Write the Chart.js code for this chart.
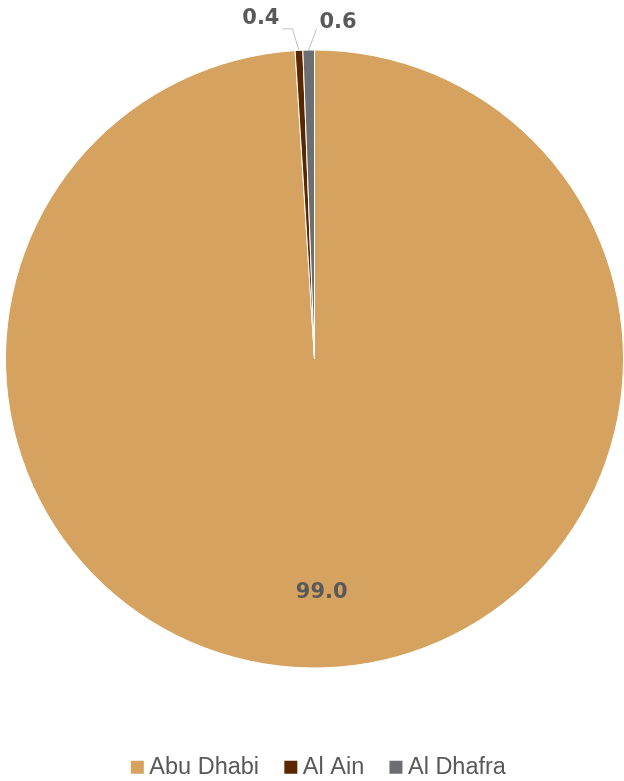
<!DOCTYPE html>
<html>
<head>
<meta charset="utf-8">
<script src="https://cdn.jsdelivr.net/npm/chart.js@4"></script>
<style>
  html, body { margin: 0; padding: 0; background: #fff; overflow: hidden; }
  #wrap { width: 624px; height: 781px; overflow: hidden; }
</style>
</head>
<body>
<div id="wrap"><canvas id="chart" width="624" height="789"></canvas></div>
<script>
const regions = ['Abu Dhabi', 'Al Ain', 'Al Dhafra'];
const shares = [99.0, 0.4, 0.6];
const sliceColors = ['#D5A260', '#5A2800', '#6D6E71'];

// value labels: inside the big slice, out above the two thin ones on leader lines
const labelPlacement = [
    { inside: true, radius: 0.75, dx: 0, dy: 7.5 },
    { inside: false, elbow: [-6.5, -21.5], end: [-16.5, -21.5], text: [-19.5, -26.5], align: 'right' },
    { inside: false, elbow: null, end: [7.8, -21], text: [10.8, -22.3], align: 'left' }
];

const valueLabels = {
    id: 'valueLabels',
    afterDatasetsDraw(chart) {
        const ctx = chart.ctx;
        const arcs = chart.getDatasetMeta(0).data;
        ctx.save();
        ctx.font = 'bold 21px "DejaVu Sans"';
        ctx.fillStyle = '#595959';
        ctx.textBaseline = 'alphabetic';
        arcs.forEach((arc, i) => {
            const p = arc.getProps(['x', 'y', 'startAngle', 'endAngle', 'outerRadius'], true);
            const mid = (p.startAngle + p.endAngle) / 2;
            const place = labelPlacement[i];
            const text = shares[i].toFixed(1);
            if (place.inside) {
                const r = p.outerRadius * place.radius;
                ctx.textAlign = 'center';
                ctx.fillText(text, p.x + Math.cos(mid) * r + place.dx, p.y + Math.sin(mid) * r + place.dy);
                return;
            }
            const ox = p.x + Math.cos(mid) * p.outerRadius;
            const oy = p.y + Math.sin(mid) * p.outerRadius;
            ctx.strokeStyle = '#BFBFBF';
            ctx.lineWidth = 1;
            ctx.beginPath();
            ctx.moveTo(ox, oy);
            if (place.elbow) ctx.lineTo(ox + place.elbow[0], oy + place.elbow[1]);
            ctx.lineTo(ox + place.end[0], oy + place.end[1]);
            ctx.stroke();
            ctx.textAlign = place.align;
            ctx.fillText(text, ox + place.text[0], oy + place.text[1]);
        });
        ctx.restore();
    }
};

// the legend squares hang left of their items, so push the row back to centre
const legendNudge = {
    id: 'legendNudge',
    afterLayout(chart) {
        chart.legend.left += 7;
        chart.legend.right += 7;
    }
};

new Chart(document.getElementById('chart').getContext('2d'), {
    type: 'pie',
    data: {
        labels: regions,
        datasets: [{
            data: shares,
            backgroundColor: sliceColors,
            borderColor: '#ffffff',
            borderWidth: 1
        }]
    },
    options: {
        responsive: false,
        animation: false,
        layout: { padding: { top: 0, left: 5, right: 0, bottom: 0 } },
        plugins: {
            tooltip: { enabled: false },
            legend: {
                position: 'bottom',
                // empty title only adds a little room above the legend row
                title: { display: true, text: '', padding: 0, font: { size: 5, lineHeight: 1.2 } },
                labels: {
                    usePointStyle: true,
                    pointStyle: 'rect',
                    boxWidth: 0.5,
                    boxHeight: 13,
                    padding: 31.5,
                    color: '#595959',
                    font: { family: '"Liberation Sans", Arial, sans-serif', size: 23.5 },
                    generateLabels: () => regions.map((name, i) => ({
                        text: name,
                        fillStyle: sliceColors[i],
                        strokeStyle: sliceColors[i],
                        lineWidth: 0,
                        pointStyle: 'rect',
                        fontColor: '#595959',
                        hidden: false,
                        index: i
                    }))
                }
            }
        }
    },
    plugins: [valueLabels, legendNudge]
});
</script>
</body>
</html>
